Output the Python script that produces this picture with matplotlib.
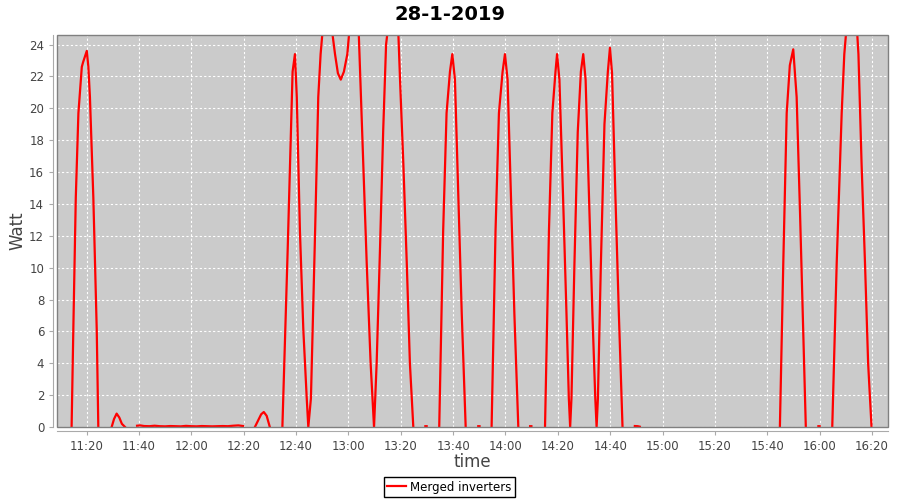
import numpy as np
import pandas as pd
import matplotlib
matplotlib.use("Agg")
import matplotlib.pyplot as plt
import matplotlib.dates as mdates
from matplotlib.patches import Rectangle

plt.rcParams.update({"font.family": "DejaVu Sans"})

DAY = "28-1-2019"
START = pd.Timestamp("2019-01-28 11:00")
NAN = np.nan

# minutes after 11:00 and power in W; NaN rows are gaps in the record
minutes = [
    14.3, 15.0, 15.9, 16.9, 18.2, 18.7, 20.1, 20.7, 21.3, 22.6, 23.9, 24.5, 27.0,
    29.6, 30.5, 31.5, 32.5, 33.5, 34.7, 37.0,
    39.3, 40.5, 42.0, 44.0, 46.0, 48.0, 50.0, 52.0, 54.0, 56.0, 58.0, 60.0,
    62.0, 64.0, 66.0, 68.0, 70.0, 72.0, 74.0, 76.0, 78.0, 79.8, 82.0,
    84.3, 85.5, 86.7, 87.7, 88.8, 90.0, 92.0,
    94.8, 96.8, 98.7, 99.6, 100.3, 101.5, 102.8, 104.1, 104.7, 105.7, 107.3,
    108.5, 109.4, 111.0, 112.5, 114.9, 116.0, 117.1, 118.3, 119.6, 121.5,
    123.8, 125.7, 127.0, 128.5, 129.8, 130.8, 132.1, 133.3, 134.4, 136.5,
    138.8, 139.8, 141.0, 142.3, 143.5, 144.8, 147.0,
    149.4, 149.9, 152.0,
    154.7, 156.2, 157.5, 158.8, 159.7, 160.7, 162.0, 163.3, 164.8, 167.0,
    169.6, 170.1, 172.0,
    174.7, 176.2, 177.5, 178.9, 179.8, 180.8, 182.1, 183.4, 184.9, 187.0,
    189.4, 189.9, 192.0,
    195.1, 196.6, 197.9, 199.1, 199.7, 200.6, 202.0, 203.3, 204.2, 204.7,
    205.2, 206.3, 207.6, 208.8, 209.7, 210.6, 211.9, 213.2, 214.3, 214.8,
    215.3, 216.4, 217.8, 219.1, 219.9, 220.7, 222.0, 223.3, 224.7, 227.0,
    229.4, 230.5, 231.3, 250.0,
    284.8, 286.1, 287.4, 288.6, 289.9, 291.2, 292.5, 293.7, 294.7, 297.0,
    299.5, 300.0, 302.0,
    304.8, 306.5, 308.4, 309.4, 311.5, 313.5, 314.8, 316.0, 317.3, 318.5, 319.8,
]
watts = [
    0, 6.5, 14.4, 19.7, 22.6, 22.9, 23.6, 22.6, 20.7, 14.4, 6.1, 0, NAN,
    0, 0.5, 0.84, 0.6, 0.2, 0, NAN,
    0.08, 0.1, 0.06, 0.05, 0.08, 0.05, 0.04, 0.06, 0.05, 0.04, 0.07, 0.05,
    0.04, 0.06, 0.05, 0.04, 0.05, 0.06, 0.05, 0.08, 0.1, 0.06, NAN,
    0, 0.4, 0.8, 0.94, 0.7, 0, NAN,
    0, 11.0, 22.3, 23.4, 20.7, 12.3, 6.1, 1.8, 0, 1.8, 12.3,
    20.7, 23.4, 26.5, 26.5, 23.4, 22.2, 21.8, 22.3, 23.4, 27.0,
    25.5, 16.5, 10.3, 4.0, 0, 4.0, 11.3, 18.6, 24.0, 27.0,
    26.0, 21.5, 16.5, 10.3, 4.0, 0, NAN,
    0.05, 0.05, NAN,
    0, 12.3, 19.7, 22.3, 23.4, 21.8, 14.4, 7.1, 0, NAN,
    0.05, 0.05, NAN,
    0, 12.3, 19.7, 22.3, 23.4, 21.8, 14.4, 7.1, 0, NAN,
    0.05, 0.05, NAN,
    0, 12.3, 19.7, 22.3, 23.4, 21.8, 14.4, 7.1, 1.8, 0,
    1.8, 10.0, 18.5, 22.3, 23.4, 21.8, 14.4, 7.1, 1.8, 0,
    1.8, 10.0, 19.0, 22.3, 23.8, 22.2, 14.4, 7.1, 0, NAN,
    0.06, 0.05, 0.02, NAN,
    0, 10.3, 19.7, 22.7, 23.7, 20.7, 13.4, 6.1, 0, NAN,
    0.05, 0.05, NAN,
    0, 10.3, 19.7, 23.4, 27.5, 27.0, 23.4, 16.5, 10.3, 4.0, 0,
]

times = START + pd.to_timedelta(minutes, unit="min")

fig = plt.figure(figsize=(9, 5), dpi=100)
ax = fig.add_axes([0.0637, 0.146, 0.923, 0.784])
ax.set_facecolor("#cbcbcb")

ax.plot(times, watts, color="#ff0000", lw=1.6, label="Merged inverters",
        solid_joinstyle="round", zorder=3)

ax.set_xlim(START + pd.Timedelta(minutes=8.85), START + pd.Timedelta(minutes=326.1))
ax.set_ylim(0, 24.6)
ax.set_yticks(np.arange(0, 25, 2))
ax.xaxis.set_major_locator(mdates.MinuteLocator(byminute=[0, 20, 40]))
ax.xaxis.set_major_formatter(mdates.DateFormatter("%H:%M"))

ax.grid(True, color="white", lw=0.8, ls=(0, (2, 2)))
ax.set_axisbelow(True)

for s in ("top", "right"):
    ax.spines[s].set_visible(False)
for s in ("left", "bottom"):
    ax.spines[s].set_position(("outward", 3))
    ax.spines[s].set_color("#aaaaaa")
ax.add_patch(Rectangle((0, 0), 1, 1, transform=ax.transAxes, fill=False,
                       edgecolor="#808080", lw=1.0, clip_on=False, zorder=5))
ax.tick_params(direction="out", length=3, color="#aaaaaa", labelcolor="#444444",
               labelsize=8.5)

ax.set_xlabel("time", fontsize=12, color="#444444", labelpad=0)
ax.set_ylabel("Watt", fontsize=12, color="#444444", labelpad=2)
fig.text(0.5, 0.972, DAY, ha="center", va="center", fontsize=14,
         fontweight="bold")

fig.legend(loc="center", bbox_to_anchor=(0.499, 0.026), fontsize=8.5,
           frameon=True, fancybox=False, edgecolor="black", framealpha=1,
           handlelength=1.6, borderpad=0.3, handletextpad=0.3)

fig.savefig("out.png", dpi=100)
